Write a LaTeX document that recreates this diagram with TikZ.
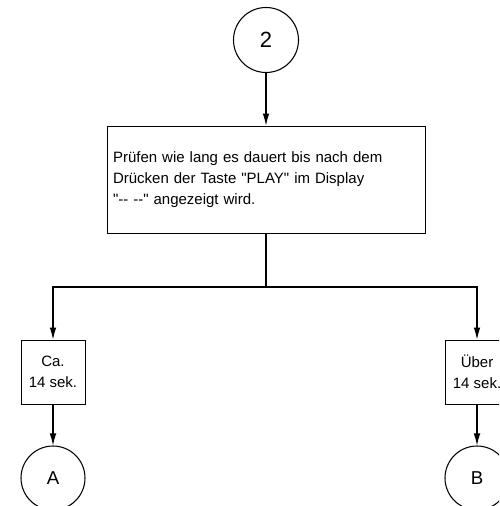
\documentclass[tikz,border=0pt]{standalone}
\usepackage{fontspec}
\newfontfamily\plainsans{Liberation Sans}
\usetikzlibrary{arrows.meta}
\newlength{\pxu}
\setlength{\pxu}{0.75pt}
\tikzset{
  flow/.style={line width=0.8pt, draw=black},
  arr/.style={flow, -{Latex[length=9pt,width=5pt]}},
  conn/.style={circle, draw=black, line width=0.8pt, minimum size=65\pxu, inner sep=0pt},
  textbox/.style={draw=black, line width=0.7pt, font=\plainsans\fontsize{11.25pt}{15.75pt}\selectfont},
  smallbox/.style={textbox, minimum width=64\pxu, minimum height=64\pxu, inner sep=0pt, align=center}
}
\begin{document}
\begin{tikzpicture}[x=0.75pt, y=-0.75pt]
\useasboundingbox (0,0) rectangle (499,506);
\clip (0,0) rectangle (499,506);
\node[conn, font=\plainsans\fontsize{16.5pt}{18pt}\selectfont] (c2) at (266,40) {2};
\node[textbox, minimum width=318\pxu, minimum height=107\pxu, text width=306\pxu, inner xsep=6\pxu, align=left] (main) at (266,179.5)
  {Prüfen wie lang es dauert bis nach dem\\Drücken der Taste "PLAY" im Display\\"-{}- -{}-" angezeigt wird.};
\coordinate (split) at (266,287);
\node[smallbox] (lbox) at (53,372) {Ca.\\14 sek.};
\node[smallbox] (rbox) at (477,372) {Über\\14 sek.};
\node[conn, minimum size=64\pxu, font=\plainsans\fontsize{14pt}{16pt}\selectfont] (ca) at (53,478) {A};
\node[conn, minimum size=64\pxu, font=\plainsans\fontsize{14pt}{16pt}\selectfont] (cb) at (477,478) {B};
\draw[arr] (c2) -- (main);
\draw[flow] (main.south) -- (split);
\draw[arr] (split) -| (lbox.north);
\draw[arr] (split) -| (rbox.north);
\draw[arr] (lbox) -- (ca);
\draw[arr] (rbox) -- (cb);
\end{tikzpicture}
\end{document}
